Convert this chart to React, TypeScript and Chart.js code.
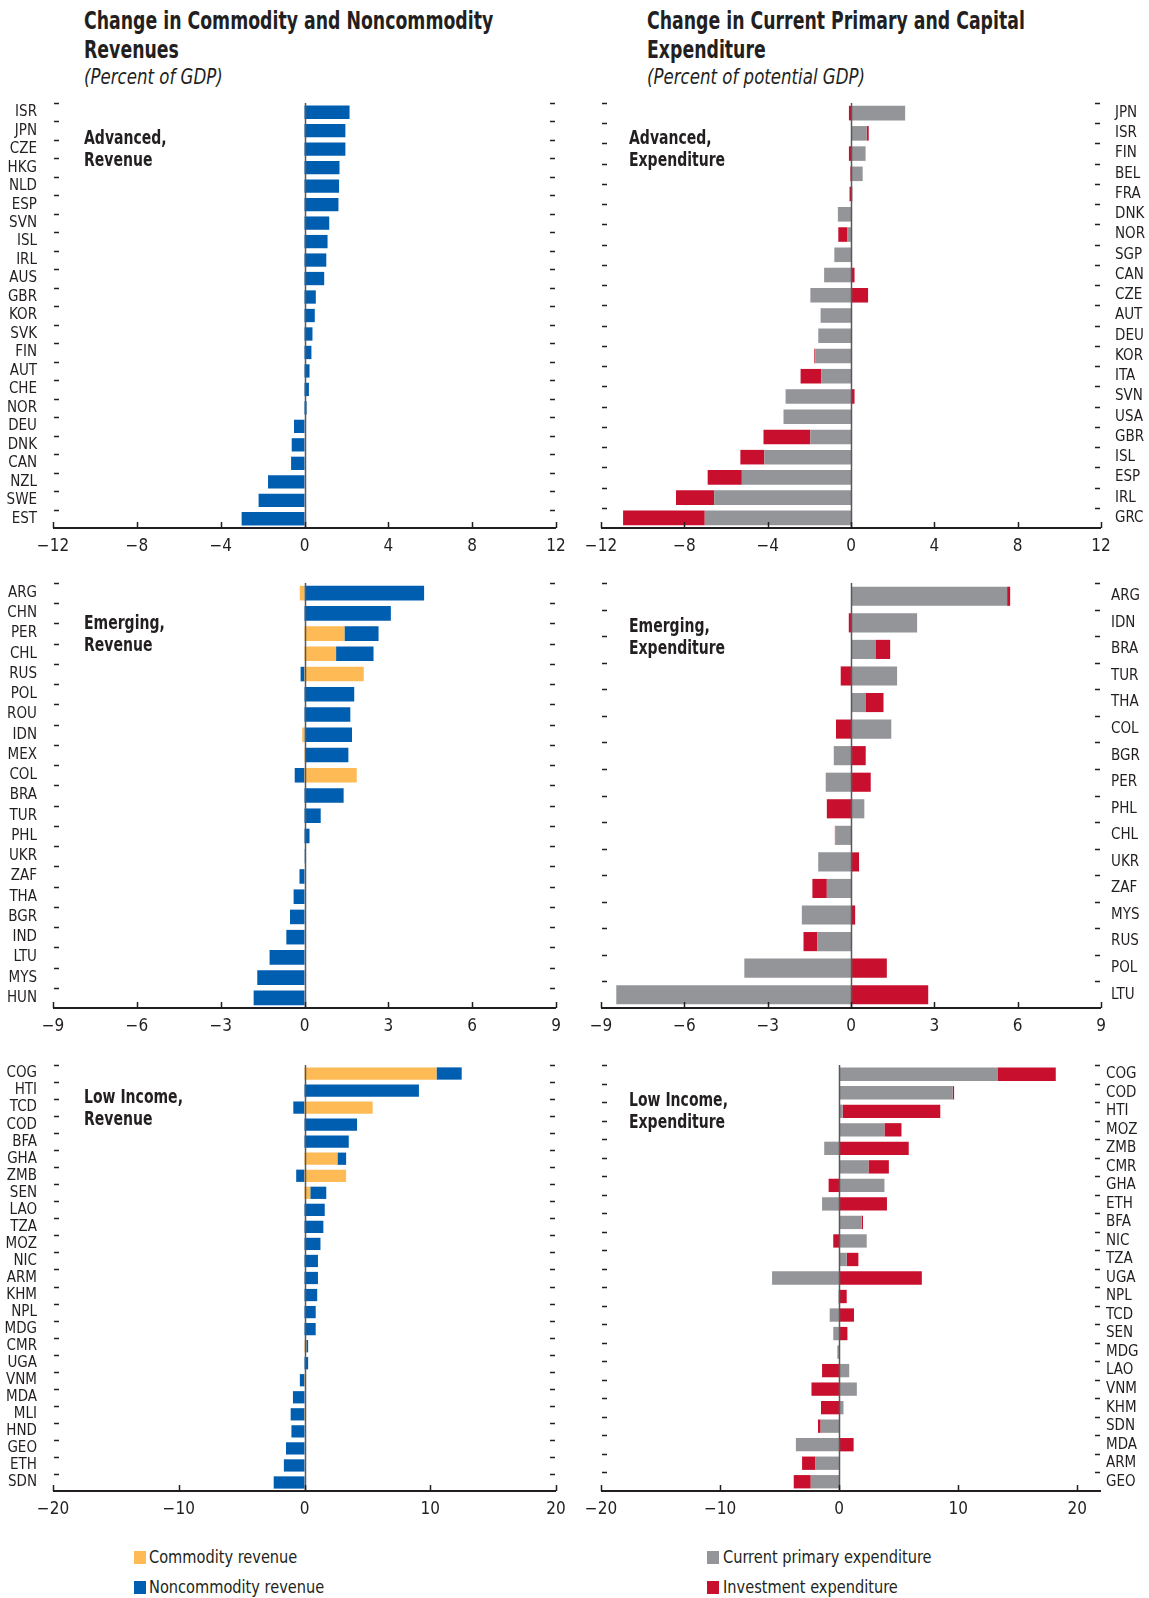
import React, { useEffect, useRef } from 'react';
import { Chart, registerables } from 'chart.js';

Chart.register(...registerables);

const FONT = '"Liberation Sans Narrow", "DejaVu Sans Condensed", "Arial Narrow", sans-serif';
const TEXT = '#231f20';
const COL_COMMODITY = '#FDBA55';
const COL_NONCOMMODITY = '#005EB0';
const COL_CURRENT = '#939598';
const COL_INVEST = '#C8102E';

// ---------- Advanced, revenue ----------
const advRevCats = ['ISR', 'JPN', 'CZE', 'HKG', 'NLD', 'ESP', 'SVN', 'ISL', 'IRL', 'AUS', 'GBR', 'KOR', 'SVK', 'FIN', 'AUT', 'CHE', 'NOR', 'DEU', 'DNK', 'CAN', 'NZL', 'SWE', 'EST'];
const advRevCommodity = [0, 0, 0, 0, 0, 0, 0, 0, 0, 0, 0, 0, 0, 0, 0, 0, 0, 0, 0, 0, 0, 0, 0];
const advRevNoncommodity = [2.15, 1.95, 1.95, 1.67, 1.65, 1.62, 1.18, 1.1, 1.04, 0.94, 0.54, 0.49, 0.38, 0.33, 0.24, 0.21, 0.1, -0.5, -0.61, -0.64, -1.74, -2.19, -3.0];

// ---------- Advanced, expenditure ----------
const advExpCats = ['JPN', 'ISR', 'FIN', 'BEL', 'FRA', 'DNK', 'NOR', 'SGP', 'CAN', 'CZE', 'AUT', 'DEU', 'KOR', 'ITA', 'SVN', 'USA', 'GBR', 'ISL', 'ESP', 'IRL', 'GRC'];
const advExpCurrent = [2.6, 0.75, 0.7, 0.56, 0.07, -0.63, -0.19, -0.8, -1.29, -1.95, -1.46, -1.57, -1.72, -1.43, -3.14, -3.24, -1.95, -4.16, -5.24, -6.57, -7.02];
const advExpInvest = [-0.1, 0.1, -0.1, -0.03, -0.07, 0.03, -0.42, 0.02, 0.17, 0.82, 0.03, 0.05, -0.04, -0.99, 0.17, 0.02, -2.25, -1.15, -1.64, -1.83, -3.92];

// ---------- Emerging, revenue ----------
const emRevCats = ['ARG', 'CHN', 'PER', 'CHL', 'RUS', 'POL', 'ROU', 'IDN', 'MEX', 'COL', 'BRA', 'TUR', 'PHL', 'UKR', 'ZAF', 'THA', 'BGR', 'IND', 'LTU', 'MYS', 'HUN'];
const emRevCommodity = [-0.17, 0, 1.43, 1.13, 2.12, 0, 0, -0.08, 0.05, 1.87, 0, 0, 0, 0, 0, 0, 0, 0, 0, 0, 0];
const emRevNoncommodity = [4.28, 3.09, 1.22, 1.34, -0.14, 1.78, 1.64, 1.7, 1.52, -0.35, 1.4, 0.58, 0.18, 0.01, -0.18, -0.39, -0.52, -0.65, -1.25, -1.69, -1.82];

// ---------- Emerging, expenditure ----------
const emExpCats = ['ARG', 'IDN', 'BRA', 'TUR', 'THA', 'COL', 'BGR', 'PER', 'PHL', 'CHL', 'UKR', 'ZAF', 'MYS', 'RUS', 'POL', 'LTU'];
const emExpCurrent = [5.62, 2.38, 0.9, 1.66, 0.54, 1.45, -0.62, -0.91, 0.48, -0.56, -1.18, -0.87, -1.77, -1.21, -3.84, -8.45];
const emExpInvest = [0.11, -0.08, 0.51, -0.37, 0.63, -0.54, 0.53, 0.71, -0.87, -0.02, 0.29, -0.52, 0.15, -0.5, 1.29, 2.78];

// ---------- Low income, revenue ----------
const liRevCats = ['COG', 'HTI', 'TCD', 'COD', 'BFA', 'GHA', 'ZMB', 'SEN', 'LAO', 'TZA', 'MOZ', 'NIC', 'ARM', 'KHM', 'NPL', 'MDG', 'CMR', 'UGA', 'VNM', 'MDA', 'MLI', 'HND', 'GEO', 'ETH', 'SDN'];
const liRevCommodity = [10.5, 0, 5.42, 0, 0, 2.62, 3.31, 0.46, 0, 0, 0, 0, 0, 0, 0, 0, 0.14, 0, 0.05, 0, 0.05, 0, 0, 0, 0];
const liRevNoncommodity = [2.0, 9.1, -0.89, 4.18, 3.52, 0.69, -0.66, 1.27, 1.61, 1.5, 1.27, 1.07, 1.07, 1.01, 0.89, 0.89, 0.15, 0.29, -0.37, -0.92, -1.1, -1.04, -1.47, -1.64, -2.45];

// ---------- Low income, expenditure ----------
const liExpCats = ['COG', 'COD', 'HTI', 'MOZ', 'ZMB', 'CMR', 'GHA', 'ETH', 'BFA', 'NIC', 'TZA', 'UGA', 'NPL', 'TCD', 'SEN', 'MDG', 'LAO', 'VNM', 'KHM', 'SDN', 'MDA', 'ARM', 'GEO'];
const liExpCurrent = [13.3, 9.54, 0.3, 3.81, -1.25, 2.47, 3.81, -1.43, 1.89, 2.32, 0.64, -5.63, -0.05, -0.79, -0.49, -0.15, 0.85, 1.49, 0.37, -1.55, -3.63, -1.98, -2.38];
const liExpInvest = [4.9, 0.12, 8.2, 1.43, 5.85, 1.71, -0.88, 4.02, 0.12, -0.49, 0.98, 6.95, 0.64, 1.25, 0.7, 0, -1.43, -2.32, -1.52, -0.22, 1.22, -1.13, -1.43];

// ---------- axis ticks ----------
const ticksAdvanced = [-12, -8, -4, 0, 4, 8, 12];
const ticksEmerging = [-9, -6, -3, 0, 3, 6, 9];
const ticksLowIncome = [-20, -10, 0, 10, 20];

const fmt = (v: number) => (v < 0 ? '\u2212' + Math.abs(v) : String(v));

const framePlugin = {
  id: 'frame',
  afterDatasetsDraw(chart: any) {
    const { ctx, chartArea, scales } = chart;
    const { left, right, top, bottom } = chartArea;
    const x = scales.x;
    const y = scales.y;
    const n = chart.data.labels.length;
    ctx.save();
    // zero line
    const zx = Math.round(x.getPixelForValue(0)) + 0.5;
    ctx.strokeStyle = '#58595b';
    ctx.lineWidth = 1.5;
    ctx.beginPath();
    ctx.moveTo(zx, top);
    ctx.lineTo(zx, bottom);
    ctx.stroke();
    // category boundary dashes
    const step = (bottom - top) / n;
    ctx.strokeStyle = TEXT;
    ctx.lineWidth = 1.5;
    for (let i = 0; i < n; i++) {
      const yy = Math.round(y.getPixelForValue(i) - step / 2) + 0.5;
      ctx.beginPath();
      ctx.moveTo(left + 1, yy);
      ctx.lineTo(left + 6, yy);
      ctx.moveTo(right - 6, yy);
      ctx.lineTo(right - 1, yy);
      ctx.stroke();
    }
    // x axis line
    ctx.lineWidth = 2;
    ctx.beginPath();
    ctx.moveTo(left, bottom);
    ctx.lineTo(right, bottom);
    ctx.stroke();
    // x ticks (pointing inward)
    ctx.lineWidth = 1.5;
    x.ticks.forEach((t: any) => {
      const px = Math.round(x.getPixelForValue(t.value)) + 0.5;
      ctx.beginPath();
      ctx.moveTo(px, bottom);
      ctx.lineTo(px, bottom - 6);
      ctx.stroke();
    });
    ctx.restore();
  },
};

type PanelProps = {
  cats: string[];
  s1: number[];
  s2: number[];
  l1: string;
  l2: string;
  c1: string;
  c2: string;
  min: number;
  max: number;
  xTicks: number[];
  side: 'left' | 'right';
  canvasLeft: number;
  canvasWidth: number;
  chartLeft: number;
  chartRight: number;
  chartTop: number;
  chartBottom: number;
  labelPad: number;
};

function Panel(p: PanelProps) {
  const ref = useRef<HTMLCanvasElement | null>(null);
  const padTop = 10;
  const xAxisH = 38;
  const height = p.chartBottom - p.chartTop + padTop + xAxisH;
  const top = p.chartTop - padTop;
  const yAxisW = p.side === 'left' ? p.chartLeft - p.canvasLeft : p.canvasLeft + p.canvasWidth - p.chartRight;
  const padLeft = p.side === 'left' ? 0 : p.chartLeft - p.canvasLeft;
  const padRight = p.side === 'left' ? p.canvasLeft + p.canvasWidth - p.chartRight : 0;

  useEffect(() => {
    if (!ref.current) return;
    const chart = new Chart(ref.current, {
      type: 'bar',
      data: {
        labels: p.cats,
        datasets: [
          { label: p.l1, data: p.s1, backgroundColor: p.c1, barPercentage: 0.72, categoryPercentage: 1, borderWidth: 0 },
          { label: p.l2, data: p.s2, backgroundColor: p.c2, barPercentage: 0.72, categoryPercentage: 1, borderWidth: 0 },
        ],
      },
      options: {
        indexAxis: 'y',
        animation: false,
        responsive: false,
        maintainAspectRatio: false,
        layout: { padding: { top: padTop, left: padLeft, right: padRight, bottom: 0 } },
        plugins: { legend: { display: false }, tooltip: { enabled: false } },
        scales: {
          x: {
            type: 'linear',
            min: p.min,
            max: p.max,
            stacked: true,
            grid: { display: false, drawTicks: false, tickLength: 0 },
            border: { display: false },
            afterBuildTicks: (s: any) => {
              s.ticks = p.xTicks.map((v) => ({ value: v }));
            },
            afterFit: (s: any) => {
              s.height = xAxisH;
              s.paddingLeft = 0;
              s.paddingRight = 0;
            },
            ticks: {
              padding: 8,
              autoSkip: false,
              maxRotation: 0,
              color: TEXT,
              font: { family: FONT, size: 17 },
              callback: (v: any) => fmt(Number(v)),
            },
          },
          y: {
            type: 'category',
            position: p.side,
            stacked: true,
            grid: { display: false, drawTicks: false, tickLength: 0 },
            border: { display: false },
            afterFit: (s: any) => {
              s.width = yAxisW;
              s.paddingTop = 0;
              s.paddingBottom = 0;
            },
            ticks: {
              padding: p.labelPad,
              autoSkip: false,
              color: TEXT,
              font: { family: FONT, size: 15 },
            },
          },
        },
      },
      plugins: [framePlugin],
    } as any);
    return () => chart.destroy();
  }, []);

  return (
    <canvas
      ref={ref}
      width={p.canvasWidth}
      height={height}
      style={{ position: 'absolute', left: p.canvasLeft, top, width: p.canvasWidth, height }}
    />
  );
}

const abs = (left: number, top: number, sx: number, extra: React.CSSProperties = {}): React.CSSProperties => ({
  position: 'absolute',
  left,
  top,
  fontFamily: FONT,
  color: TEXT,
  whiteSpace: 'nowrap',
  transform: `scaleX(${sx})`,
  transformOrigin: 'left top',
  ...extra,
});

const titleStyle: React.CSSProperties = { fontSize: 25, fontWeight: 'bold', lineHeight: '29px' };
const subStyle: React.CSSProperties = { fontSize: 21, fontStyle: 'italic', lineHeight: '27px' };
const noteStyle: React.CSSProperties = { fontSize: 19, fontWeight: 'bold', lineHeight: '22px' };
const legStyle: React.CSSProperties = { fontSize: 18, lineHeight: '20px' };

function Swatch({ left, top, color }: { left: number; top: number; color: string }) {
  return <div style={{ position: 'absolute', left, top, width: 12, height: 13, background: color }} />;
}

const L = { canvasLeft: 0, canvasWidth: 580, chartLeft: 53, chartRight: 556 };
const R = { canvasLeft: 575, canvasWidth: 574, chartLeft: 601, chartRight: 1101 };

export default function App() {
  return (
    <div style={{ position: 'absolute', left: 0, top: 0, width: 1149, height: 1598, background: '#fff', overflow: 'hidden' }}>
      <div style={abs(84, 6, 0.77, titleStyle)}>
        Change in Commodity and Noncommodity
        <br />
        Revenues
      </div>
      <div style={abs(84, 64, 0.88, subStyle)}>(Percent of GDP)</div>
      <div style={abs(647, 6, 0.77, titleStyle)}>
        Change in Current Primary and Capital
        <br />
        Expenditure
      </div>
      <div style={abs(647, 64, 0.88, subStyle)}>(Percent of potential GDP)</div>

      <Panel cats={advRevCats} s1={advRevCommodity} s2={advRevNoncommodity} l1="Commodity revenue" l2="Noncommodity revenue"
        c1={COL_COMMODITY} c2={COL_NONCOMMODITY} min={-12} max={12} xTicks={ticksAdvanced} side="left"
        {...L} chartTop={103} chartBottom={528} labelPad={16} />
      <Panel cats={advExpCats} s1={advExpCurrent} s2={advExpInvest} l1="Current primary expenditure" l2="Investment expenditure"
        c1={COL_CURRENT} c2={COL_INVEST} min={-12} max={12} xTicks={ticksAdvanced} side="right"
        {...R} chartTop={103} chartBottom={528} labelPad={14} />
      <Panel cats={emRevCats} s1={emRevCommodity} s2={emRevNoncommodity} l1="Commodity revenue" l2="Noncommodity revenue"
        c1={COL_COMMODITY} c2={COL_NONCOMMODITY} min={-9} max={9} xTicks={ticksEmerging} side="left"
        {...L} chartTop={583} chartBottom={1008} labelPad={16} />
      <Panel cats={emExpCats} s1={emExpCurrent} s2={emExpInvest} l1="Current primary expenditure" l2="Investment expenditure"
        c1={COL_CURRENT} c2={COL_INVEST} min={-9} max={9} xTicks={ticksEmerging} side="right"
        {...R} chartTop={583} chartBottom={1008} labelPad={10} />
      <Panel cats={liRevCats} s1={liRevCommodity} s2={liRevNoncommodity} l1="Commodity revenue" l2="Noncommodity revenue"
        c1={COL_COMMODITY} c2={COL_NONCOMMODITY} min={-20} max={20} xTicks={ticksLowIncome} side="left"
        {...L} chartTop={1065} chartBottom={1491} labelPad={16} />
      <Panel cats={liExpCats} s1={liExpCurrent} s2={liExpInvest} l1="Current primary expenditure" l2="Investment expenditure"
        c1={COL_CURRENT} c2={COL_INVEST} min={-20} max={22} xTicks={ticksLowIncome} side="right"
        {...R} chartTop={1065} chartBottom={1491} labelPad={5} />

      <div style={abs(84, 126, 0.82, noteStyle)}>Advanced,<br />Revenue</div>
      <div style={abs(629, 126, 0.82, noteStyle)}>Advanced,<br />Expenditure</div>
      <div style={abs(84, 611, 0.82, noteStyle)}>Emerging,<br />Revenue</div>
      <div style={abs(629, 614, 0.82, noteStyle)}>Emerging,<br />Expenditure</div>
      <div style={abs(84, 1085, 0.82, noteStyle)}>Low Income,<br />Revenue</div>
      <div style={abs(629, 1088, 0.82, noteStyle)}>Low Income,<br />Expenditure</div>

      <Swatch left={134} top={1551} color={COL_COMMODITY} />
      <div style={abs(149, 1547, 0.9, legStyle)}>Commodity revenue</div>
      <Swatch left={134} top={1581} color={COL_NONCOMMODITY} />
      <div style={abs(149, 1577, 0.9, legStyle)}>Noncommodity revenue</div>
      <Swatch left={707} top={1551} color={COL_CURRENT} />
      <div style={abs(723, 1547, 0.9, legStyle)}>Current primary expenditure</div>
      <Swatch left={707} top={1581} color={COL_INVEST} />
      <div style={abs(723, 1577, 0.9, legStyle)}>Investment expenditure</div>
    </div>
  );
}
